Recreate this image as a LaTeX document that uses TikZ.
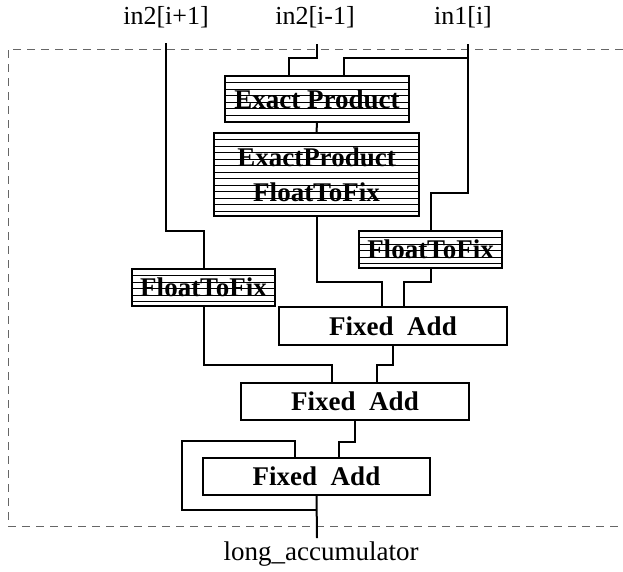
\documentclass[tikz,border=0pt]{standalone}
\usepackage{fontspec}
\setmainfont{Liberation Serif}
\begin{document}
\begin{tikzpicture}[x=1pt,y=-1pt,
  wire/.style={line width=2pt,line join=miter},
  blk/.style={draw,line width=1.2pt,rectangle,inner sep=0pt,fill=white,
    font=\fontsize{27}{35}\selectfont\bfseries,align=center},
  hatchline/.style={line width=0.8pt},
  hatched/.style={blk,path picture={
    \foreach \k in {1,...,14}{
      \draw[hatchline] ([yshift=-\k*6.5pt]path picture bounding box.north west) --
        ([yshift=-\k*6.5pt]path picture bounding box.north east);}}},
  lbl/.style={font=\fontsize{26}{30}\selectfont,inner sep=0pt},
  frame/.style={dashed,dash pattern=on 8pt off 6pt,line width=1pt,draw=black!60}]
\useasboundingbox (0,0) rectangle (623,571);

% dashed frame
\draw[frame] (623,49) -- (8,49) -- (8,526) -- (623,526);

% labels
\node[lbl] (l1) at (166,17) {in2[i+1]};
\node[lbl] (l2) at (315,17) {in2[i-1]};
\node[lbl] (l3) at (463,17) {in1[i]};
\node[lbl,font=\fontsize{27}{30}\selectfont] (lout) at (321,554) {long\_accumulator};
\coordinate (inA) at (166,43);
\coordinate (inB) at (317,44);
\coordinate (inC) at (468,44);
\coordinate (out) at (317,538);
\coordinate (fbl) at (182,510);

% blocks
\node[hatched,minimum width=184,minimum height=46] (ep) at (317,99) {Exact Product};
\node[hatched,minimum width=205,minimum height=83] (epf) at (316.5,174.5) {ExactProduct\\FloatToFix};
\node[hatched,minimum width=143,minimum height=37] (ftfL) at (203.5,287.5) {FloatToFix};
\node[hatched,minimum width=143,minimum height=37] (ftfR) at (430.5,249.5) {FloatToFix};
\node[blk,minimum width=228,minimum height=38] (fa1) at (393,326) {Fixed\ \ Add};
\node[blk,minimum width=228,minimum height=37] (fa2) at (355,401.5) {Fixed\ \ Add};
\node[blk,minimum width=227,minimum height=37] (fa3) at (316.5,476.5) {Fixed\ \ Add};

% connectors
\draw[wire] (inB) |- ([xshift=-28pt,yshift=17pt]ep.north) -- ([xshift=-28pt]ep.north);
\draw[wire] (inC) |- ([xshift=27pt,yshift=17pt]ep.north) -- ([xshift=27pt]ep.north);
\draw[wire] (inC) |- ([yshift=37pt]ftfR.north) -- (ftfR.north);
\draw[wire] (ep.south) -- (epf.north);
\draw[wire] (epf.south) |- ([xshift=-11pt,yshift=24pt]fa1.north) -- ([xshift=-11pt]fa1.north);
\draw[wire] (ftfR.south) |- ([xshift=11pt,yshift=24pt]fa1.north) -- ([xshift=11pt]fa1.north);
\draw[wire] (inA) |- ([yshift=37pt]ftfL.north) -- (ftfL.north);
\draw[wire] (ftfL.south) |- ([xshift=-23pt,yshift=17pt]fa2.north) -- ([xshift=-23pt]fa2.north);
\draw[wire] (fa1.south) |- ([xshift=22pt,yshift=17pt]fa2.north) -- ([xshift=22pt]fa2.north);
\draw[wire] (fa2.south) |- ([xshift=22.5pt,yshift=15pt]fa3.north) -- ([xshift=22.5pt]fa3.north);
\draw[wire] ([xshift=-21.5pt]fa3.north) -- ([xshift=-21.5pt,yshift=16pt]fa3.north) -| (fbl) -- (fa3.south |- fbl);
\draw[wire] (fa3.south) -- (out);
\end{tikzpicture}
\end{document}
